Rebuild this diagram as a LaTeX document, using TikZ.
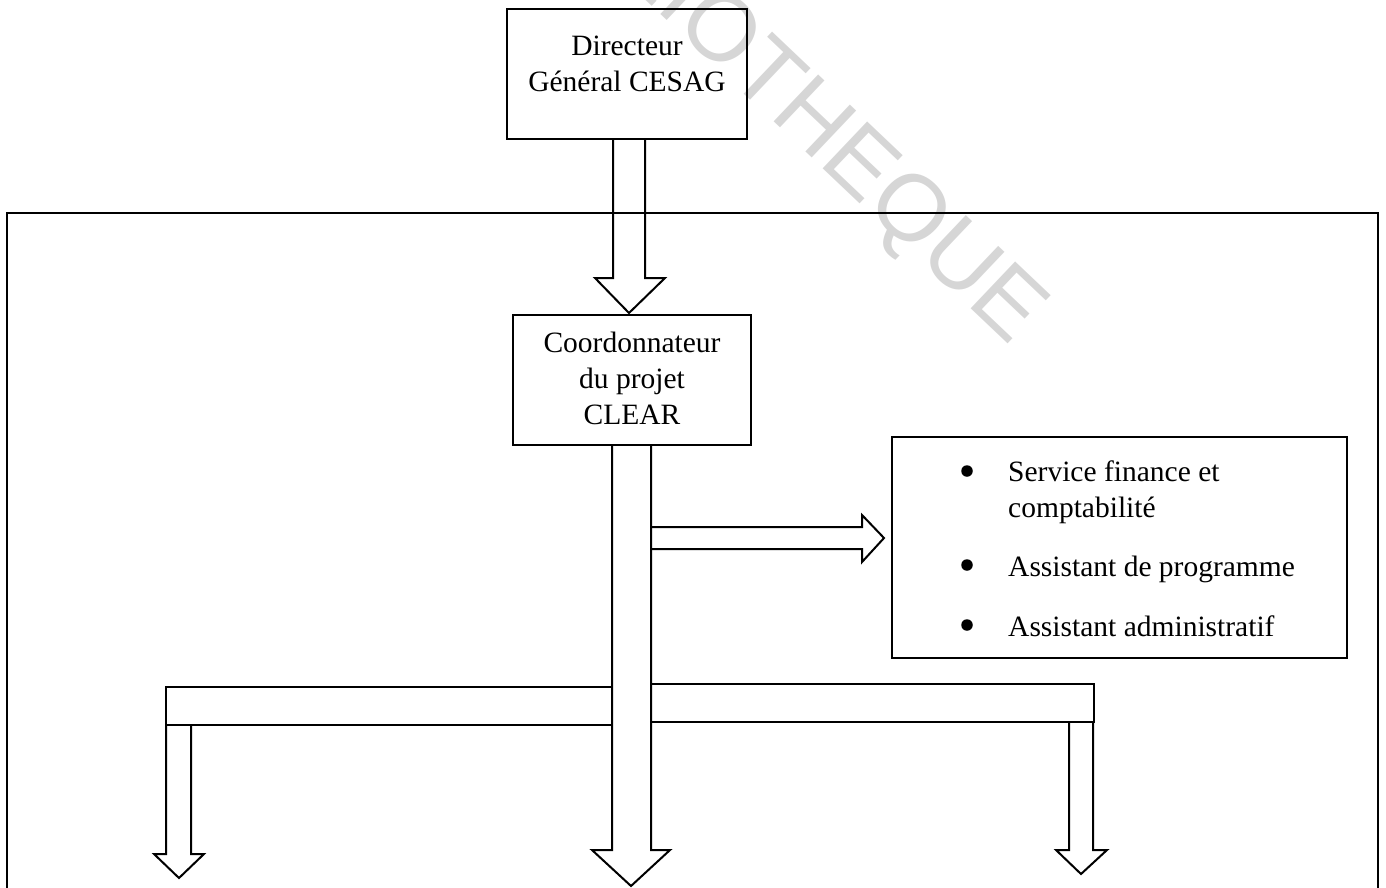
\documentclass[tikz,border=0pt]{standalone}
\usepackage{fontspec}
\setmainfont{Liberation Serif}
\newfontfamily\wmfont{Liberation Sans}
\begin{document}
\begin{tikzpicture}[x=1pt,y=-1pt,
  box/.style={draw, line width=2.6pt, rectangle, inner sep=0pt},
  blk/.style={draw, line width=2pt, line join=miter},
  txt/.style={inner sep=0pt, anchor=base, font=\fontsize{29.5}{36}\selectfont},
  itm/.style={inner sep=0pt, anchor=base west, font=\fontsize{29.5}{36}\selectfont},
  bul/.style={circle, fill, inner sep=0pt, minimum size=11.5pt},
  wm/.style={inner sep=0pt, rotate=-43.5, anchor=base east, text=black!16, font=\wmfont\fontsize{94}{94}\selectfont}]
\useasboundingbox (0,0) rectangle (1386,887);
\begin{scope}
\clip (0,0) rectangle (1386,887);
% watermark
\node[wm] (wmk) at (1011,347) {BIBLIOTHEQUE};
% boxes
\node[box, minimum width=240pt, minimum height=130pt] (dg) at (627,74) {};
\node[txt] (dg1) at (627,55) {Directeur};
\node[txt] (dg2) at (627,91) {Général CESAG};
\node[box, minimum width=238pt, minimum height=130pt] (co) at (632,380) {};
\node[txt] (co1) at (632,352) {Coordonnateur};
\node[txt] (co2) at (632,388) {du projet};
\node[txt] (co3) at (632,424) {CLEAR};
\node[box, minimum width=455pt, minimum height=221pt] (sv) at (1119.5,547.5) {};
\node[bul] (b1) at (967,471) {};
\node[itm] (s1) at (1008,481) {Service finance et};
\node[itm] (s1b) at (1008,517) {comptabilité};
\node[bul] (b2) at (967,565) {};
\node[itm] (s2) at (1008,576) {Assistant de programme};
\node[bul] (b3) at (967,625) {};
\node[itm] (s3) at (1008,636) {Assistant administratif};
% block arrows
\draw[blk] (613,139) -- (613,278) -- (595,278) -- (629,313) -- (665,278) -- (645,278) -- (645,139);
\draw[blk] (612,445) -- (612,850) -- (592,850) -- (631,886) -- (670,850) -- (651,850) -- (651,445);
\draw[blk] (651,527) -- (862,527) -- (862,515) -- (884,538) -- (862,562) -- (862,549) -- (651,549);
\draw[blk] (166,687) rectangle (612,725);
\draw[blk] (166,725) -- (166,854) -- (154,854) -- (179,878) -- (204,854) -- (191,854) -- (191,725);
\draw[blk] (651,684) rectangle (1094,722);
\draw[blk] (1069,722) -- (1069,850) -- (1056,850) -- (1081,874) -- (1107,850) -- (1093,850) -- (1093,722);
% outer frame
\draw[line width=2.2pt] (7,900) -- (7,213) -- (1378,213) -- (1378,900);
\end{scope}
\end{tikzpicture}
\end{document}
